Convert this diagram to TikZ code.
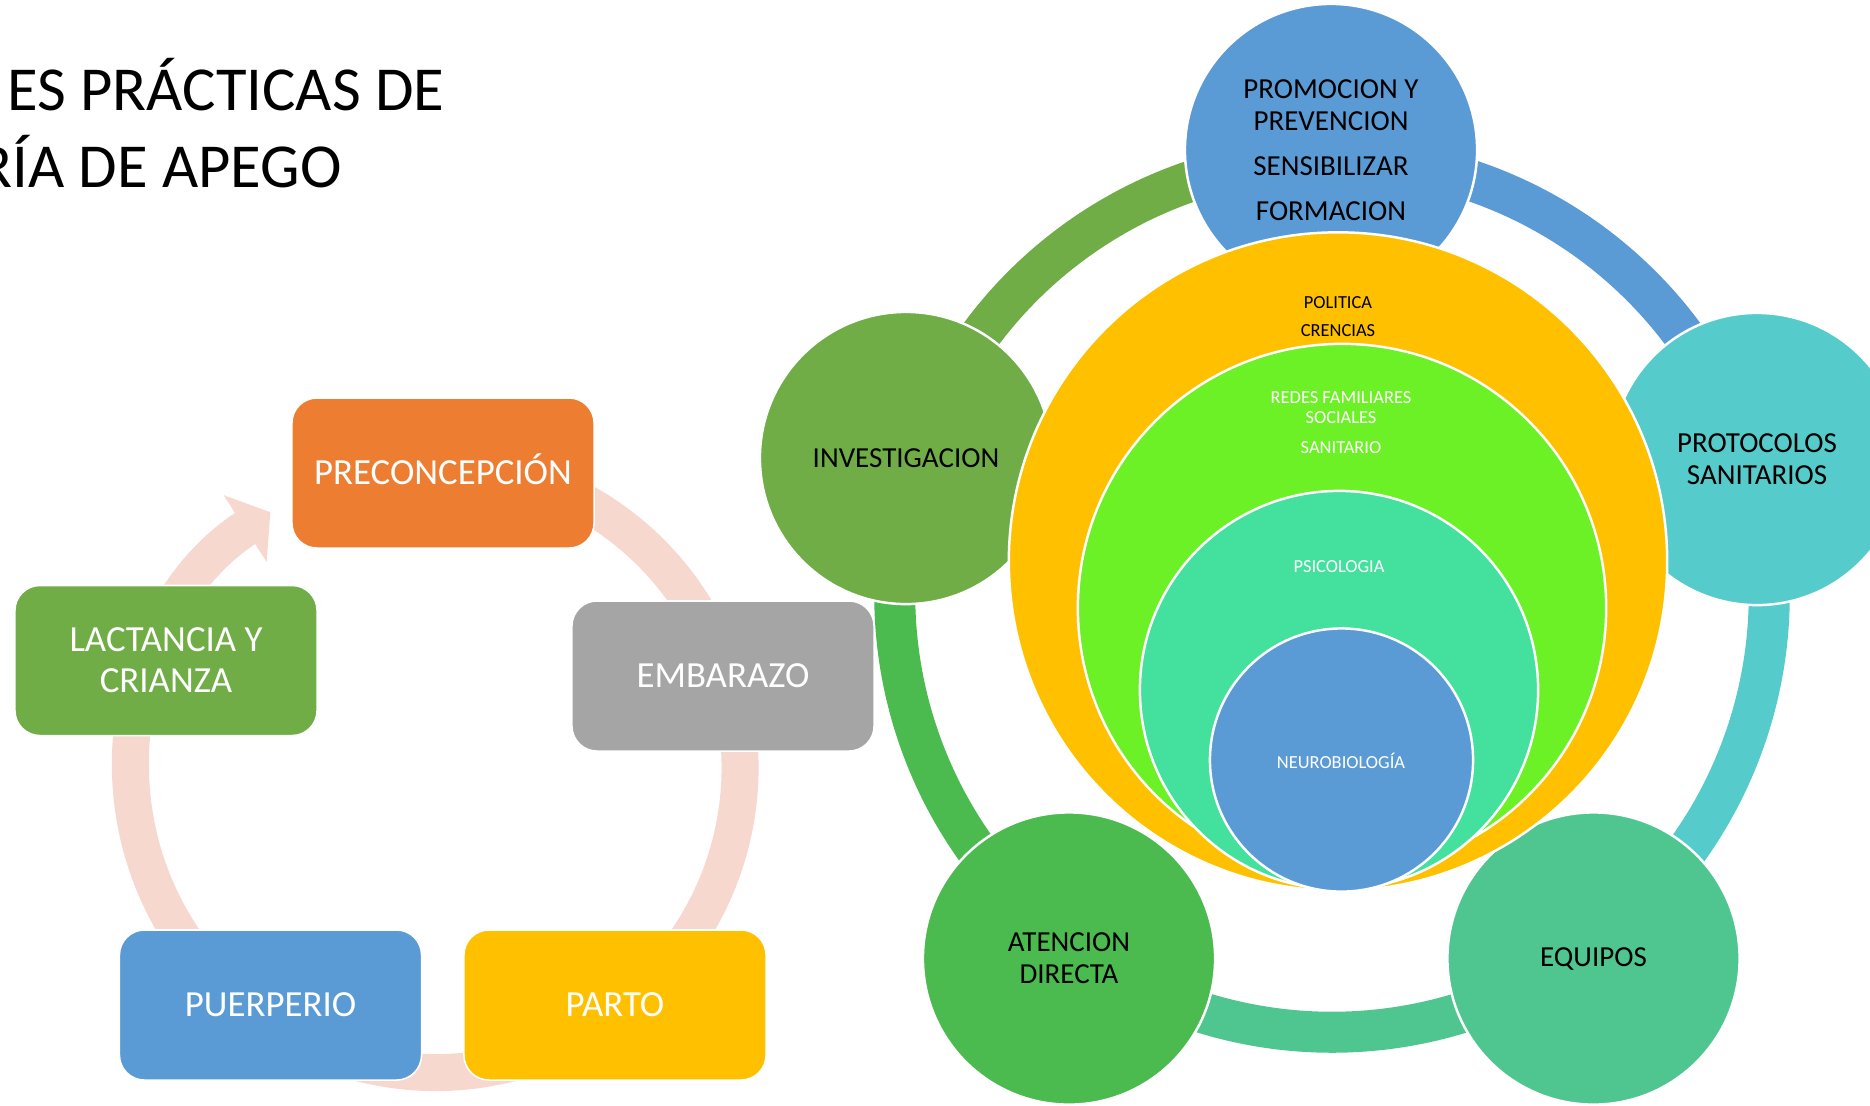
\documentclass[tikz,border=0pt]{standalone}
\usepackage{fontspec}
\setmainfont{Carlito}
\usepackage{tikz}
\usetikzlibrary{arrows.meta,backgrounds,calc,positioning}

\definecolor{preorange}{HTML}{ED7D31}
\definecolor{embgray}{HTML}{A5A5A5}
\definecolor{partoyellow}{HTML}{FFC000}
\definecolor{puerblue}{HTML}{5B9BD5}
\definecolor{lactgreen}{HTML}{70AD47}
\definecolor{ringpink}{HTML}{F7D8CE}
\definecolor{prototeal}{HTML}{55CBCB}
\definecolor{equipgreen}{HTML}{4FC68F}
\definecolor{atencgreen}{HTML}{4BBA4F}
\definecolor{redesgreen}{HTML}{6BF125}
\definecolor{psicoteal}{HTML}{43E09E}

\newcommand{\tituloFont}{\fontsize{17.8pt}{21.9pt}\selectfont}
\newcommand{\etapaFont}{\fontsize{10.47pt}{11.66pt}\selectfont}
\newcommand{\areaFont}{\fontsize{8.25pt}{9.1pt}\selectfont}
\newcommand{\capaFont}{\fontsize{5.24pt}{5.83pt}\selectfont}

\tikzset{
	stagebox/.style={rectangle,rounded corners=0.25cm,draw=white,line width=0.45pt,minimum width=3.02cm,minimum height=1.5cm,inner sep=0,align=center,text=white,font=\etapaFont},
	areacircle/.style={circle,draw=white,line width=0.7pt,minimum size=2.92cm,inner sep=0,align=center,font=\areaFont},
	ecocircle/.style={circle,draw=white,line width=0.7pt,inner sep=0},
	capa/.style={inner sep=0,anchor=base,font=\capaFont},
	cycring/.style={draw=ringpink,line width=0.37cm},
	linkband/.style={line width=0.41cm}
}

\begin{document}
\begin{tikzpicture}[x=0.01cm,y=-0.01cm]
	\useasboundingbox (0,0) rectangle (1870,1105);
	\clip (0,0) rectangle (1870,1105);
	% titulo
	\node[anchor=base west,inner sep=0,font=\tituloFont] (titulo1) at (7,110) {ES PRÁCTICAS DE};
	\node[anchor=base west,inner sep=0,font=\tituloFont] (titulo2) at (-22,187) {RÍA DE APEGO};
	% ciclo de etapas
	\coordinate (cyc) at (435.5,768);
	\draw[cycring,-{Triangle[length=0.3cm,width=0.78cm]}] ($(cyc)+(246:304.5)$) arc[start angle=246,end angle=597.15,radius=304.5];
	\node[stagebox,fill=preorange,text height=6.6pt,text depth=0pt] (precon) at (443,473) {PRECONCEPCIÓN};
	\node[stagebox,fill=embgray] (embarazo) at (723,676) {EMBARAZO};
	\node[stagebox,fill=partoyellow] (parto) at (615,1005) {PARTO};
	\node[stagebox,fill=puerblue] (puerperio) at (270.5,1005) {PUERPERIO};
	\node[stagebox,fill=lactgreen] (lactancia) at (166,660.5) {LACTANCIA Y\\CRIANZA};
	% areas de accion
	\coordinate (ring) at (1332,595);
	\node[areacircle,fill=lactgreen] (invest) at (906,458) {INVESTIGACION};
	\node[areacircle,fill=puerblue] (promo) at (1331,150) {PROMOCION Y\\PREVENCION\\[3.7pt]SENSIBILIZAR\\[3.7pt]FORMACION};
	\node[areacircle,fill=prototeal] (proto) at (1757,459) {PROTOCOLOS\\SANITARIOS};
	\node[areacircle,fill=equipgreen] (equipos) at (1593.5,958.5) {EQUIPOS};
	\node[areacircle,fill=atencgreen] (atencion) at (1069,958.5) {ATENCION\\DIRECTA};
	\begin{scope}[on background layer]
		\foreach \ini/\fin/\col in {invest/promo/lactgreen,promo/proto/puerblue,proto/equipos/prototeal,equipos/atencion/equipgreen,atencion/invest/atencgreen}
		\draw[linkband,draw=\col] let \p1=($(\ini)-(ring)$),\p2=($(\fin)-(ring)$),
			\n1={atan2(\y1,\x1)},\n2={atan2(\y2,\x2)},\n3={\n2-360*(\n2>\n1)} in
			($(ring)+(\n1:4.37cm)$) arc[start angle=\n1,end angle=\n3,radius=4.37cm];
	\end{scope}
	% circulos concentricos
	\node[ecocircle,fill=partoyellow,minimum size=6.58cm] (politica) at (1338,561.5) {};
	\node[ecocircle,fill=redesgreen,minimum size=5.28cm] (redes) at (1342,608) {};
	\node[ecocircle,fill=psicoteal,minimum size=3.98cm] (psico) at (1339,690) {};
	\node[ecocircle,fill=puerblue,minimum size=2.63cm] (neuro) at (1341.5,760) {};
	\node[capa] (tpolitica) at (1338,308) {POLITICA};
	\node[capa] (tcrencias) at (1338,336) {CRENCIAS};
	\node[capa,anchor=center,align=center,text=white] (tredes) at (1341,407.75) {REDES FAMILIARES\\SOCIALES};
	\node[capa,text=white] (tsanitario) at (1341,453) {SANITARIO};
	\node[capa,text=white] (tpsico) at (1339,572) {PSICOLOGIA};
	\node[capa,text=white] (tneuro) at (1341,768) {NEUROBIOLOGÍA};
\end{tikzpicture}
\end{document}
